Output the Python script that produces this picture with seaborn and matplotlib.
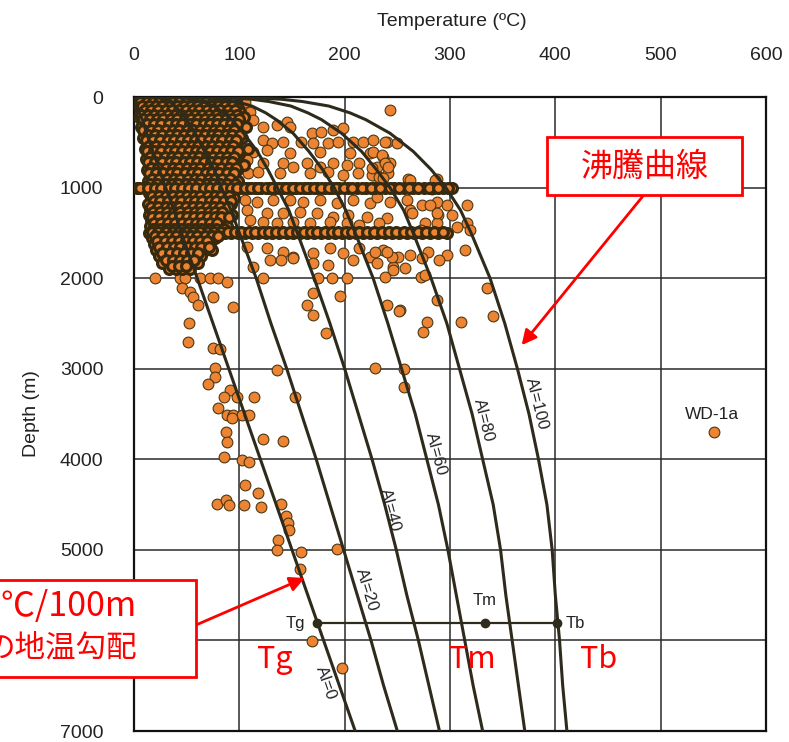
"""
地温勾配・沸騰曲線図（Temperature vs Depth, AI curves）
"""
import matplotlib
matplotlib.use("Agg")
import matplotlib.pyplot as plt
from matplotlib.patches import Rectangle
import pandas as pd
import seaborn as sns

# ── 坑井温度データ ──
# 浅部の密集域: 深度ごとの温度
band_depths = [0, 30, 70, 120, 170, 220, 270, 330, 390, 450, 510, 570, 630, 690, 750,
               810, 870, 930, 1000, 1060, 1120, 1180, 1240, 1300, 1360, 1420, 1500,
               1560, 1620, 1690, 1760, 1830, 1900]
band_temps = [
    [1, 5, 9, 14, 19, 23, 28, 33, 37, 42, 47, 52, 56, 61, 66, 71, 75, 80, 85, 89, 94, 98],
    [3, 8, 15, 21, 27, 34, 40, 46, 53, 59, 65, 72, 78, 84, 91, 97],
    [4, 11, 17, 24, 31, 37, 44, 50, 57, 63, 70, 76, 83, 89, 95],
    [6, 13, 19, 26, 33, 39, 46, 52, 59, 66, 72, 79, 85, 92, 99],
    [9, 15, 22, 28, 35, 42, 48, 55, 61, 68, 74, 81, 88, 94, 101],
    [5, 12, 18, 25, 31, 38, 45, 51, 58, 64, 71, 77, 84, 91, 97, 104],
    [10, 17, 23, 30, 36, 43, 49, 56, 63, 69, 76, 82, 89, 95],
    [7, 13, 20, 27, 33, 40, 46, 53, 60, 66, 73, 79, 86, 92, 99, 106],
    [11, 18, 24, 31, 37, 44, 51, 57, 64, 70, 77, 83, 90, 97],
    [9, 15, 22, 29, 35, 42, 48, 55, 61, 68, 75, 81, 88, 94, 103],
    [12, 19, 25, 32, 39, 45, 52, 58, 65, 71, 78, 85, 91, 98],
    [10, 16, 23, 30, 36, 43, 49, 56, 62, 69, 76, 82, 89, 95, 108],
    [13, 20, 26, 33, 39, 46, 53, 59, 66, 72, 79, 85, 92, 100],
    [11, 17, 24, 31, 37, 44, 50, 57, 63, 70, 77, 83, 90, 96],
    [14, 21, 27, 34, 40, 47, 54, 60, 67, 73, 80, 86, 93, 104],
    [12, 18, 25, 32, 38, 45, 51, 58, 64, 71, 78, 84, 91, 98],
    [15, 22, 28, 35, 41, 48, 55, 61, 68, 74, 81, 88, 94],
    [13, 19, 26, 33, 39, 46, 52, 59, 65, 72, 79, 85, 92, 99],
    [3, 10, 16, 23, 29, 36, 43, 49, 56, 62, 69, 76, 82, 89, 95, 102, 108, 115, 121, 128,
     134, 141, 148, 154, 161, 167, 174, 181, 188, 195, 203, 212, 220, 229, 238, 247, 256,
     265, 275, 284, 293, 302],
    [14, 21, 27, 34, 40, 47, 53, 60, 67, 73, 80, 86, 93],
    [16, 22, 29, 35, 42, 49, 55, 62, 68, 75, 81, 88, 95],
    [13, 20, 26, 33, 39, 46, 53, 59, 66, 72, 79, 85, 92],
    [15, 22, 28, 35, 41, 48, 54, 61, 68, 74, 81, 87],
    [14, 21, 27, 34, 40, 47, 54, 60, 67, 73, 80, 86, 93],
    [16, 23, 29, 36, 42, 49, 56, 62, 69, 75, 82],
    [15, 21, 28, 35, 41, 48, 54, 61, 67, 74, 81, 88],
    [14, 20, 27, 33, 40, 46, 53, 60, 66, 73, 79, 86, 92, 99, 105, 112, 118, 125, 131, 138,
     145, 151, 158, 164, 171, 178, 184, 191, 197, 204, 211, 217, 224, 231, 238, 245, 252,
     259, 266, 273, 281, 289, 297],
    [17, 24, 30, 37, 43, 50, 57, 63, 70, 77],
    [19, 26, 33, 39, 46, 52, 59, 66, 72],
    [21, 28, 34, 41, 47, 54, 61, 67, 74],
    [24, 31, 37, 44, 51, 57, 64],
    [27, 34, 41, 47, 54, 61],
    [33, 40, 46, 53],
]

# 密集域の中間深度の点
mid_depths = [15, 50, 95, 145, 195, 245, 300, 360, 420, 480, 540, 600, 660, 720, 780,
              840, 900, 965, 1010, 1090, 1150, 1210, 1270, 1330, 1390, 1460, 1490, 1530,
              1590, 1655, 1725, 1795, 1865]
mid_temps = [
    [3, 7, 12, 16, 21, 26, 31, 35, 40, 45, 49, 54, 59, 63, 68, 73, 78, 82, 87, 92, 96],
    [6, 12, 18, 24, 30, 37, 43, 49, 56, 62, 68, 75, 81, 87, 94],
    [8, 14, 21, 27, 34, 41, 47, 54, 60, 67, 74, 80, 86, 93],
    [10, 16, 23, 30, 36, 43, 49, 56, 62, 69, 76, 82, 89, 96],
    [7, 13, 19, 26, 32, 39, 45, 52, 58, 65, 71, 78, 85, 91, 98],
    [9, 15, 22, 28, 35, 41, 48, 54, 61, 67, 74, 80, 87, 93, 100],
    [12, 19, 26, 33, 40, 46, 53, 59, 66, 72, 79, 85, 92, 98],
    [9, 16, 23, 30, 37, 43, 50, 56, 63, 69, 76, 82, 89, 95],
    [13, 20, 27, 34, 41, 47, 54, 61, 67, 74, 80, 87, 93, 101],
    [11, 18, 25, 32, 38, 45, 51, 58, 64, 71, 78, 84, 91, 97],
    [14, 21, 28, 35, 42, 48, 55, 61, 68, 74, 81, 88, 94],
    [12, 19, 26, 33, 39, 46, 52, 59, 65, 72, 79, 85, 92, 99],
    [15, 22, 29, 36, 42, 49, 56, 62, 69, 75, 82, 88, 95],
    [13, 20, 27, 34, 40, 47, 53, 60, 66, 73, 80, 87, 93],
    [16, 23, 30, 37, 43, 50, 57, 63, 70, 76, 83, 90, 97],
    [14, 21, 28, 35, 41, 48, 55, 61, 68, 74, 81, 88, 95],
    [17, 24, 31, 38, 44, 51, 58, 64, 71, 77, 84, 91],
    [15, 22, 29, 36, 42, 49, 55, 62, 69, 75, 82, 88, 96],
    [6, 13, 20, 26, 33, 39, 46, 52, 59, 66, 72, 79, 85, 92, 98, 105, 111, 118, 125, 131,
     138, 144, 151, 158, 164, 171, 178, 185, 192, 199, 207, 216, 225, 234, 243, 252, 261,
     270, 280, 289, 298],
    [17, 24, 30, 37, 44, 50, 57, 63, 70, 77, 83, 90],
    [19, 25, 32, 39, 45, 52, 58, 65, 72, 78, 85, 92],
    [16, 23, 30, 36, 43, 49, 56, 63, 69, 76, 82, 89],
    [18, 25, 31, 38, 44, 51, 58, 64, 71, 77, 84],
    [17, 24, 31, 37, 44, 50, 57, 64, 70, 77, 83, 90],
    [19, 26, 32, 39, 46, 52, 59, 65, 72, 79],
    [18, 25, 31, 38, 45, 51, 58, 64, 71, 78, 85],
    [17, 23, 30, 37, 43, 50, 56, 63, 70, 76, 83, 89, 96, 102, 109, 115, 122, 128, 135,
     141, 148, 155, 161, 168, 174, 181, 188, 194, 201, 207, 214, 221, 228, 235, 242, 249,
     256, 263, 270, 277, 285, 293],
    [20, 27, 34, 40, 47, 54, 60, 67, 74, 80],
    [22, 29, 36, 43, 49, 56, 63, 69],
    [24, 31, 38, 44, 51, 58, 64, 71],
    [27, 34, 41, 47, 54, 61],
    [30, 37, 44, 50, 57],
    [36, 43, 49],
]

# 高温側に散在する点 (温度, 深度)
spread_points = [
    (105, 55), (110, 166), (113, 254), (122, 331), (136, 309), (145, 276), (148, 331),
    (243, 144), (169, 397), (178, 386), (189, 364), (198, 342), (122, 475), (131, 508),
    (141, 497), (159, 497), (170, 508), (184, 508), (194, 497), (208, 497), (217, 497),
    (227, 475), (240, 497), (250, 508), (113, 607), (126, 585), (148, 618), (177, 607),
    (205, 618), (224, 618), (236, 662), (107, 696), (122, 729), (141, 729), (151, 773),
    (164, 729), (177, 773), (189, 729), (202, 751), (214, 729), (231, 773), (243, 729),
    (108, 839), (118, 828), (139, 839), (167, 839), (184, 828), (198, 861), (213, 839),
    (226, 861), (241, 839), (105, 1137), (117, 1159), (132, 1137), (148, 1137),
    (160, 1159), (177, 1137), (193, 1170), (208, 1137), (224, 1170), (243, 1159),
    (107, 1248), (126, 1281), (141, 1281), (158, 1270), (174, 1281), (189, 1325),
    (203, 1303), (221, 1325), (240, 1336), (110, 1358), (122, 1380), (136, 1391),
    (151, 1380), (167, 1391), (186, 1380), (202, 1391), (214, 1413), (233, 1391),
    (107, 1656), (126, 1667), (141, 1711), (151, 1766), (170, 1722), (186, 1667),
    (198, 1722), (214, 1667), (224, 1766), (236, 1689), (113, 1877), (129, 1800),
    (140, 1800), (151, 1777), (170, 1833), (184, 1855), (208, 1800), (231, 1833),
    (246, 1877), (238, 497), (227, 607), (235, 640), (238, 729), (241, 773), (226, 784),
    (233, 884), (236, 895), (260, 906), (288, 906), (227, 994), (246, 1005), (262, 994),
    (270, 1005), (283, 1016), (316, 1192), (288, 1160), (297, 1192), (273, 1192),
    (281, 1192), (259, 1137), (262, 1248), (231, 1104), (302, 1303), (289, 1303),
    (316, 1391), (319, 1468), (307, 1435), (288, 1391), (276, 1391), (284, 1491),
    (241, 1491), (314, 1690), (297, 1745), (290, 1800), (279, 1712), (273, 1778),
    (262, 1745), (251, 1766), (245, 1766), (240, 1712), (229, 1712), (246, 1910),
    (257, 1888), (238, 1987), (272, 1987), (276, 1965), (262, 917), (286, 917),
    (264, 1281), (288, 1281), (272, 1468), (335, 2109),
]

# 2000 m 以深の点 (温度, 深度)
deep_points = [
    (20, 2000), (44, 2000), (48, 2000), (63, 2000), (72, 2000), (80, 2000), (88, 2040),
    (122, 2000), (175, 2000), (188, 2000), (202, 2000), (170, 2164), (196, 2197),
    (46, 2109), (53, 2153), (56, 2208), (75, 2208), (61, 2297), (94, 2319), (52, 2495),
    (51, 2705), (75, 2771), (82, 2782), (77, 2992), (77, 3092), (70, 3169), (91, 3235),
    (85, 3312), (98, 3312), (114, 3312), (80, 3434), (88, 3511), (94, 3511), (103, 3511),
    (109, 3511), (93, 3544), (87, 3699), (88, 3809), (122, 3776), (141, 3798), (85, 3975),
    (103, 4008), (109, 4030), (105, 4284), (118, 4372), (79, 4494), (87, 4450),
    (90, 4505), (104, 4505), (121, 4527), (140, 4494), (144, 4626), (146, 4704),
    (147, 4781), (137, 4891), (136, 5002), (159, 5024), (158, 5211), (193, 4991),
    (169, 6006), (197, 6304), (136, 3014), (153, 3312), (229, 2992), (164, 2297),
    (170, 2407), (182, 2606), (253, 2352), (278, 2484), (274, 2595), (310, 2484),
    (341, 2418), (288, 2241), (256, 3003), (256, 3202), (240, 2297), (252, 2363),
    (551, 3699),
]

# ── AI 曲線 ──
curve_depth = [0, 25, 50, 100, 175, 250, 400, 600, 800, 1000, 1250, 1500, 2000, 2500,
               3000, 3500, 4000, 4500, 5000, 5500, 6000, 6500, 7000]
ai_0 = [0, 1, 2, 3, 5, 8, 12, 18, 24, 30, 38, 45, 60, 75, 90, 105, 120, 135, 150, 165,
        180, 195, 210]
ai_20 = [20, 29, 34, 39, 45, 50, 58, 67, 76, 83, 92, 100, 116, 130, 145, 159, 173, 186,
         199, 212, 225, 237, 250]
ai_40 = [40, 57, 65, 76, 85, 93, 104, 117, 127, 136, 147, 155, 171, 186, 200, 213, 226,
         238, 249, 259, 270, 280, 290]
ai_60 = [60, 84, 97, 112, 125, 135, 151, 166, 179, 190, 201, 210, 227, 241, 254, 267,
         278, 289, 298, 306, 314, 322, 331]
ai_80 = [80, 112, 128, 149, 165, 178, 197, 216, 230, 243, 256, 265, 282, 297, 309, 321,
         331, 341, 348, 353, 359, 365, 371]
ai_100 = [100, 140, 160, 185, 205, 220, 243, 265, 282, 296, 310, 320, 338, 352, 364,
          375, 384, 392, 397, 400, 404, 407, 411]
curve_names = ["AI=0", "AI=20", "AI=40", "AI=60", "AI=80", "AI=100"]
# ラベル位置 (温度, 深度, 回転角)
label_temp = [182, 221, 243, 287, 332, 382]
label_depth = [6470, 5443, 4560, 3942, 3566, 3390]
label_rot = [-71, -73, -75, -75, -76, -76]

# Tg / Tm / Tb
marker_names = ["Tg", "Tm", "Tb"]
marker_temp = [174, 333, 402]
marker_depth = 5808

ORANGE = "#EC8433"
EDGE = "#4d3712"
DARK_EDGE = "#382a0e"
INK = "#2e2b1c"

sns.set_theme(style="white")
plt.rcParams["font.family"] = ["Liberation Sans", "Noto Sans CJK JP", "DejaVu Sans"]

W, H = 789, 742
fig = plt.figure(figsize=(W / 100, H / 100), dpi=100)
ax = fig.add_axes([134 / W, 11 / H, 632 / W, 634 / H])

# 散布点: 密集域は縁を太くして重なりを暗く見せる
band_rows = []
for depths, temps_list in [(band_depths, band_temps), (mid_depths, mid_temps)]:
    for z, temps in zip(depths, temps_list):
        band_rows += [(t, z) for t in temps]
band_df = pd.DataFrame(band_rows, columns=["temp", "depth"])
other_df = pd.DataFrame(spread_points + deep_points, columns=["temp", "depth"])
sns.scatterplot(data=other_df, x="temp", y="depth", ax=ax, s=60, color=ORANGE,
                edgecolor=EDGE, linewidth=0.8, zorder=3, legend=False)
sns.scatterplot(data=band_df, x="temp", y="depth", ax=ax, s=50, color=ORANGE,
                edgecolor=DARK_EDGE, linewidth=2.3, zorder=3, legend=False)

# AI 曲線
for vals in [ai_0, ai_20, ai_40, ai_60, ai_80, ai_100]:
    sns.lineplot(x=vals, y=curve_depth, ax=ax, sort=False, estimator=None,
                 color=INK, lw=2.2, zorder=4)
for name, t, z, r in zip(curve_names, label_temp, label_depth, label_rot):
    ax.text(t, z, name, rotation=r, rotation_mode="anchor", ha="center", va="center",
            fontsize=12, color="#222222", zorder=5)

# Tg-Tm-Tb 線
ax.plot([marker_temp[0], marker_temp[-1]], [marker_depth] * 2, color=INK, lw=1.6, zorder=5)
ax.plot(marker_temp, [marker_depth] * 3, "o", color=INK, ms=6, zorder=6)
ax.text(marker_temp[0] - 12, marker_depth, "Tg", ha="right", va="center", fontsize=12, color="#222")
ax.text(marker_temp[1], marker_depth - 170, "Tm", ha="center", va="bottom", fontsize=12, color="#222")
ax.text(marker_temp[2] + 8, marker_depth, "Tb", ha="left", va="center", fontsize=12, color="#222")
ax.text(549, 3511, "WD-1a", ha="center", va="center", fontsize=12.5, color="#222")

# 軸設定
ax.set_xlim(0, 600)
ax.set_ylim(7000, 0)
ax.set_xticks(range(0, 700, 100))
ax.set_yticks(range(0, 8000, 1000))
ax.xaxis.tick_top()
ax.tick_params(axis="both", length=0, labelsize=14, colors="#222222")
ax.tick_params(axis="x", pad=24)
ax.tick_params(axis="y", pad=22)
ax.set_xlabel("")
ax.set_ylabel("")
ax.grid(True, color="#2a2a2a", lw=1.1)
ax.set_axisbelow(True)
for sp in ax.spines.values():
    sp.set_color("#111111")
    sp.set_linewidth(1.6)

fig.text(452 / W, 1 - 22 / H, "Temperature (ºC)", ha="center", va="center", fontsize=14, color="#222")
fig.text(31 / W, 1 - 414 / H, "Depth (m)", ha="center", va="center", rotation=90, fontsize=14, color="#222")

# 赤い注記
def fpx(x, y):
    return x / W, 1 - y / H

RED = "#FF0000"
CJK = ["Noto Sans CJK JP", "DejaVu Sans"]
fig.patches.append(Rectangle(fpx(547, 195), 195 / W, 58 / H, transform=fig.transFigure,
                             facecolor="white", edgecolor=RED, lw=2, zorder=10))
fig.text(*fpx(645, 167), "沸騰曲線", ha="center", va="center", fontsize=23, color=RED,
         family=CJK, zorder=11)
fig.patches.append(Rectangle(fpx(-20, 677), 216 / W, 97 / H, transform=fig.transFigure,
                             facecolor="white", edgecolor=RED, lw=2, zorder=10))
# 左端は元図でも枠外に切れている
fig.text(*fpx(136, 607), "3℃/100m", ha="right", va="center", fontsize=24.5, color=RED,
         family=CJK, zorder=11)
fig.text(*fpx(137, 648), "の地温勾配", ha="right", va="center", fontsize=22, color=RED,
         family=CJK, zorder=11)

arrow = dict(arrowstyle="-|>", color=RED, lw=2, mutation_scale=22, shrinkA=0, shrinkB=0)
ax.annotate("", xy=(368, 2740), xytext=(643, H - 196), textcoords="figure pixels",
            arrowprops=arrow, annotation_clip=False, zorder=12)
ax.annotate("", xy=(162, 5310), xytext=(196, H - 625), textcoords="figure pixels",
            arrowprops=arrow, annotation_clip=False, zorder=12)

for name, t in zip(marker_names, [134, 321, 441]):
    ax.text(t, 6216, name, ha="center", va="center", fontsize=22, color=RED,
            family=CJK, zorder=11)

fig.savefig("out.png", dpi=100, facecolor="white")
